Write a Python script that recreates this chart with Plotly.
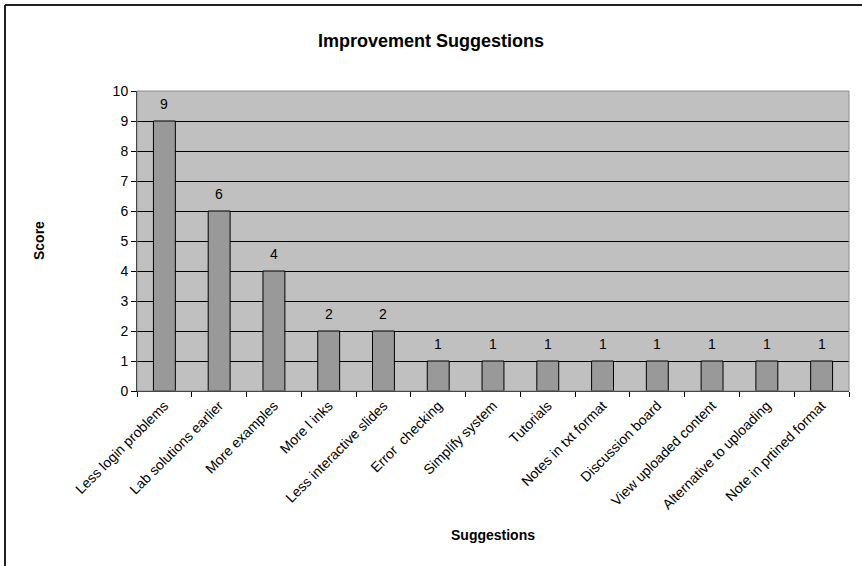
import plotly.graph_objects as go

# Survey results: improvement suggestions and their scores
suggestions = [
    "Less login problems", "Lab solutions earlier", "More examples", "More l inks",
    "Less interactive slides", "Error  checking", "Simplify system", "Tutorials",
    "Notes in txt format", "Discussion board", "View uploaded content",
    "Alternative to uploading", "Note in prtined format",
]
scores = [9, 6, 4, 2, 2, 1, 1, 1, 1, 1, 1, 1, 1]
y_ticks = list(range(0, 11))

FONT = "Liberation Sans, Arial, sans-serif"
W, H = 862, 566
L, R, T, B = 137, 13, 91, 175
pw, ph = W - L - R, H - T - B

fig = go.Figure(
    go.Bar(
        x=suggestions,
        y=scores,
        marker=dict(color="#999999", line=dict(color="black", width=1)),
        width=0.4,
        hoverinfo="x+y",
    )
)

# value labels above each bar
for s, v in zip(suggestions, scores):
    fig.add_annotation(
        x=s, y=v, text=str(v), showarrow=False, yshift=17, yanchor="middle",
        font=dict(family=FONT, size=14, color="black"),
    )

# axis titles
fig.add_annotation(
    xref="paper", yref="paper", x=0.5, y=0, yshift=-(535 - (T + ph)),
    text="<b>Suggestions</b>", showarrow=False, yanchor="middle",
    font=dict(family=FONT, size=14, color="black"),
)
fig.add_annotation(
    xref="paper", yref="paper", x=0, y=0.5, xshift=-(L - 39),
    text="<b>Score</b>", showarrow=False, textangle=-90, xanchor="center",
    font=dict(family=FONT, size=14, color="black"),
)

# plot-area border (gray) and outer chart frame (dark)
fig.add_shape(type="rect", xref="paper", yref="paper", x0=0, y0=0, x1=1, y1=1,
              line=dict(color="#8c8c8c", width=1), layer="above")
fx0 = (5 - L) / pw
fy1 = (T + ph - 5) / ph
fig.add_shape(type="line", xref="paper", yref="paper", x0=fx0, x1=fx0, y0=-2, y1=fy1,
              line=dict(color="#222222", width=2))
fig.add_shape(type="line", xref="paper", yref="paper", x0=fx0, x1=2, y0=fy1, y1=fy1,
              line=dict(color="#222222", width=2))

fig.update_layout(
    width=W, height=H,
    margin=dict(l=L, r=R, t=T, b=B, pad=0),
    paper_bgcolor="white",
    plot_bgcolor="#c0c0c0",
    showlegend=False,
    bargap=0.6,
    title=dict(
        text="<b>Improvement Suggestions</b>",
        x=0.5, xref="container", xanchor="center",
        y=1 - 41 / H, yref="container", yanchor="middle",
        font=dict(family=FONT, size=18, color="black"),
    ),
    font=dict(family=FONT, size=14, color="black"),
)

fig.update_xaxes(
    type="category",
    tickangle=-45,
    tickson="boundaries",
    ticks="outside", ticklen=5, tickcolor="black", tickwidth=1,
    showline=True, linecolor="black", linewidth=1,
    showgrid=False,
    tickfont=dict(family=FONT, size=14, color="black"),
)
fig.update_yaxes(
    range=[0, 10],
    tickvals=y_ticks,
    ticks="outside", ticklen=5, tickcolor="black", tickwidth=1,
    showline=True, linecolor="black", linewidth=1,
    showgrid=True, gridcolor="black", gridwidth=1,
    zeroline=False,
    tickfont=dict(family=FONT, size=14, color="black"),
)

fig.write_html("out.html")
